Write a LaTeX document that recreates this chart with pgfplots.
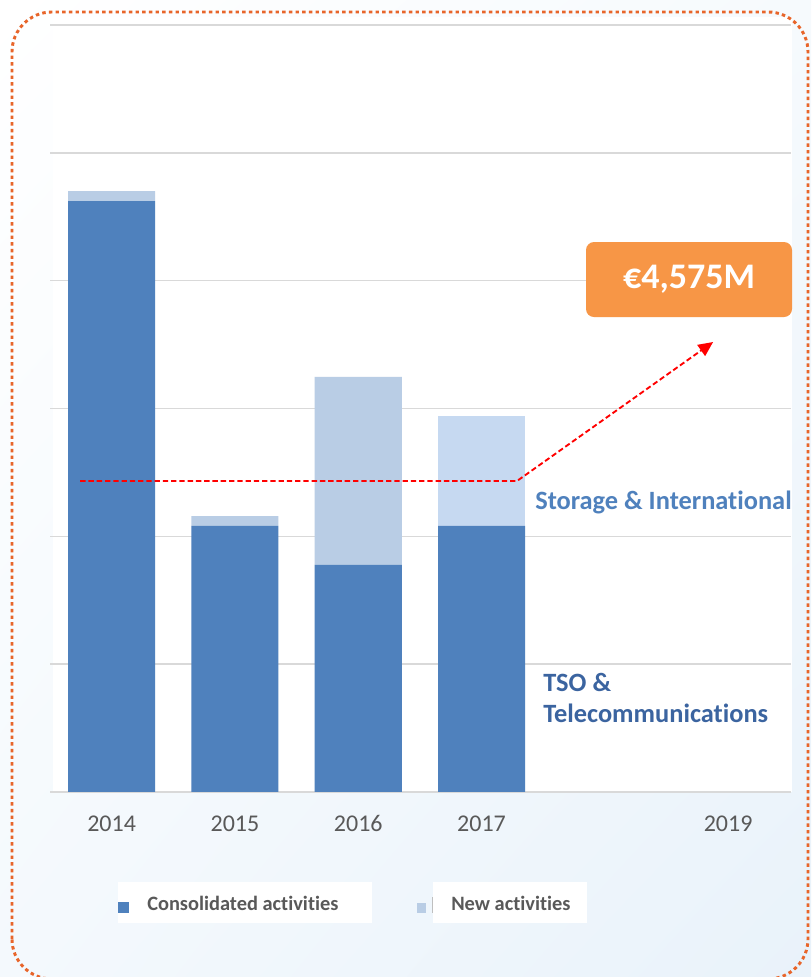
\documentclass[border=0pt]{standalone}
\usepackage{pgfplots}
\pgfplotsset{compat=1.18}
\usepackage{fontspec}
\setmainfont{Carlito}[Ligatures=NoCommon]
\usetikzlibrary{arrows.meta,shadings}
\definecolor{darkbar}{HTML}{4F81BD}
\definecolor{lightbar}{HTML}{B9CDE5}
\definecolor{lightbarb}{HTML}{C6D9F1}
\definecolor{gridc}{HTML}{D9D9D9}
\definecolor{tickc}{HTML}{595959}
\definecolor{boxor}{HTML}{F79646}
\definecolor{frameor}{HTML}{E8652A}
\definecolor{tsoblue}{HTML}{3B64A0}
\definecolor{bgA}{HTML}{F4F9FD}
\definecolor{bgB}{HTML}{E9F2FA}
\definecolor{bgC}{HTML}{F6FAFD}
\begin{document}
\begin{tikzpicture}
\useasboundingbox (0,0) rectangle (608.25pt,732.75pt);
\shade[upper left=white, upper right=bgC, lower left=bgA, lower right=bgB] (0,0) rectangle (608.25pt,732.75pt);
\fill[white] (40pt,138.75pt) rectangle (594pt,720pt);
% legend boxes
\fill[white] (88.5pt,40.5pt) rectangle (279pt,71.25pt);
\fill[white] (324.75pt,40.5pt) rectangle (440.25pt,71.25pt);
\begin{axis}[
  at={(37.5pt,138.75pt)}, anchor=south west,
  scale only axis, width=555.75pt, height=575.25pt,
  xmin=-0.5, xmax=5.51, ymin=0, ymax=6,
  ybar stacked, bar width=0.706,
  axis line style={draw=none},
  major tick length=0pt,
  xtick={0,1,2,3,5}, xticklabels={2014,2015,2016,2017,2019},
  xticklabel style={anchor=base, yshift=-30pt, text=tickc, font=\fontsize{18}{20}\selectfont},
  ytick={0,1,2,3,4,5,6}, yticklabel=\empty,
  ymajorgrids, grid style={gridc, line width=1.1pt},
  clip=false,
]
\addplot[fill=darkbar, draw=none] coordinates {(0,4.623) (1,2.081) (2,1.776) (3,2.081)};
\addplot[fill=lightbar, draw=none] coordinates {(0,0.078) (1,0.078) (2,1.471) (3,0)};
\addplot[fill=lightbarb, draw=none] coordinates {(0,0) (1,0) (2,0) (3,0.860)};
\end{axis}
% red dashed arrow (annotation)
\begin{axis}[
  at={(37.5pt,138.75pt)}, anchor=south west,
  scale only axis, width=555.75pt, height=575.25pt,
  xmin=-0.5, xmax=5.51, ymin=0, ymax=6,
  hide axis, clip=false,
]
\addplot[red, line width=1.4pt, dash pattern=on 4pt off 2.2pt, -{Triangle[length=11pt,width=10pt]}] coordinates {(-0.255,2.433) (3.288,2.433) (4.878,3.520)};
\end{axis}
% orange total box
\node[fill=boxor, rounded corners=6pt, minimum width=154.5pt, minimum height=56.25pt, text=white, font=\bfseries\fontsize{27}{32}\selectfont] at (516.75pt,523.1pt) {€4,575M};
% series labels
\node[anchor=base west, inner sep=0pt, text=darkbar, font=\bfseries\fontsize{19.8}{24}\selectfont] at (401.25pt,350.25pt) {Storage \& International};
\node[anchor=base west, inner sep=0pt, text=tsoblue, font=\bfseries\fontsize{19.8}{24}\selectfont] at (407.25pt,213.75pt) {TSO \&};
\node[anchor=base west, inner sep=0pt, text=tsoblue, font=\bfseries\fontsize{19.8}{24}\selectfont] at (407.25pt,190.5pt) {Telecommunications};
% legend
\fill[darkbar] (88.5pt,48pt) rectangle (96.75pt,56.25pt);
\node[anchor=base west, inner sep=0pt, text=tickc, font=\bfseries\fontsize{15.3}{18}\selectfont] at (110.25pt,49.5pt) {Consolidated activities};
\fill[lightbar] (312.75pt,48pt) rectangle (319.5pt,55.5pt);
\draw[gray!50, line width=0.6pt] (324pt,48pt) -- (324pt,60pt);
\node[anchor=base west, inner sep=0pt, text=tickc, font=\bfseries\fontsize{15.3}{18}\selectfont] at (338.25pt,49.5pt) {New activities};
% dotted frame
\draw[frameor, line width=2.2pt, dash pattern=on 2.6pt off 2.4pt, rounded corners=30pt] (9pt,-1.5pt) rectangle (606pt,723.75pt);
\end{tikzpicture}
\end{document}
